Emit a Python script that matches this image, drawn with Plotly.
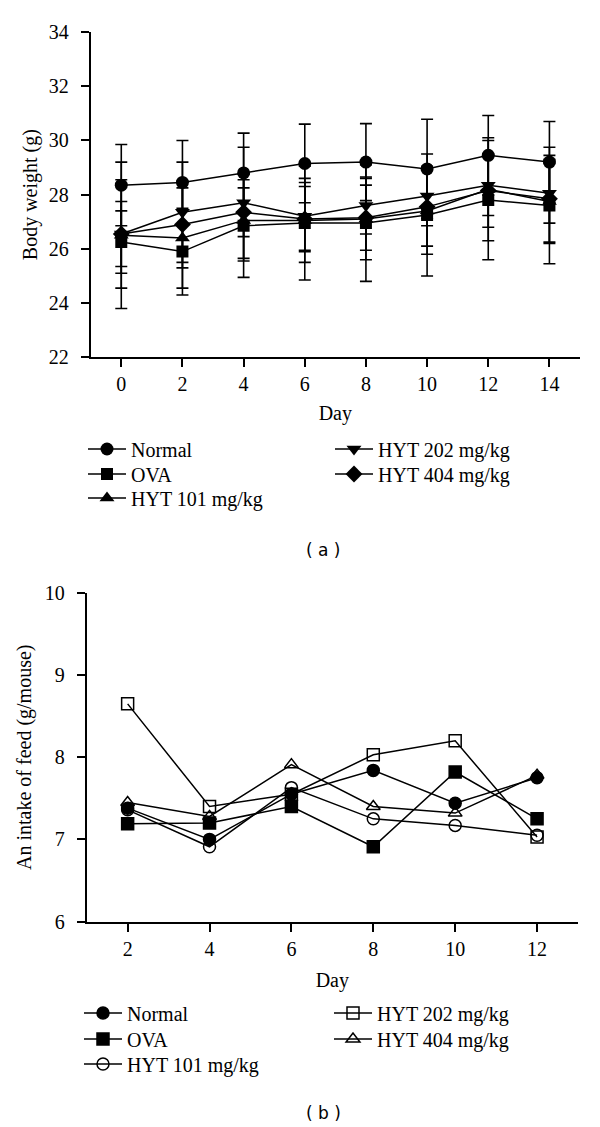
import plotly.graph_objects as go

# ---------------- Data: panel (a) body weight ----------------
days_a = [0, 2, 4, 6, 8, 10, 12, 14]
bw_normal = [28.35, 28.45, 28.8, 29.15, 29.2, 28.95, 29.45, 29.2]
sd_normal = [1.5, 1.55, 1.47, 1.45, 1.42, 1.83, 1.47, 1.5]
bw_ova = [26.25, 25.9, 26.85, 26.95, 26.95, 27.25, 27.8, 27.6]
sd_ova = [1.15, 1.6, 1.9, 2.1, 2.15, 2.25, 2.2, 2.15]
bw_hyt101 = [26.5, 26.4, 27.05, 27.05, 27.1, 27.4, 28.2, 27.75]
sd_hyt101 = [2.7, 1.85, 1.5, 1.55, 1.5, 1.6, 1.9, 1.55]
bw_hyt202 = [26.55, 27.35, 27.7, 27.2, 27.6, 27.95, 28.35, 28.05]
sd_hyt202 = [1.2, 1.85, 2.05, 1.25, 1.05, 1.1, 1.12, 1.1]
bw_hyt404 = [26.55, 26.9, 27.35, 27.1, 27.15, 27.55, 28.15, 27.85]
sd_hyt404 = [2.0, 1.6, 0.9, 1.2, 1.2, 1.45, 1.35, 1.6]

# ---------------- Data: panel (b) feed intake ----------------
days_b = [2, 4, 6, 8, 10, 12]
fi_normal = [7.38, 7.0, 7.55, 7.84, 7.44, 7.75]
fi_ova = [7.19, 7.2, 7.4, 6.91, 7.82, 7.25]
fi_hyt101 = [7.36, 6.91, 7.63, 7.25, 7.17, 7.05]
fi_hyt202 = [8.65, 7.40, 7.55, 8.03, 8.20, 7.03]
fi_hyt404 = [7.45, 7.28, 7.91, 7.40, 7.32, 7.78]

names = ["Normal", "OVA", "HYT 101 mg/kg", "HYT 202 mg/kg", "HYT 404 mg/kg"]
ticks_a_x = [0, 2, 4, 6, 8, 10, 12, 14]
ticks_a_y = [22, 24, 26, 28, 30, 32, 34]
ticks_b_x = [2, 4, 6, 8, 10, 12]
ticks_b_y = [6, 7, 8, 9, 10]

SERIF = "Liberation Serif"
W, H = 600, 1127

fig = go.Figure()

sym_a = ["circle", "square", "triangle-up", "triangle-down", "diamond"]
ys_a = [bw_normal, bw_ova, bw_hyt101, bw_hyt202, bw_hyt404]
sds_a = [sd_normal, sd_ova, sd_hyt101, sd_hyt202, sd_hyt404]
sizes_a = [13, 12, 13, 13, 13]

for i in range(5):
    fig.add_trace(go.Scatter(
        x=days_a, y=ys_a[i], name=names[i], mode="lines+markers",
        xaxis="x", yaxis="y", legend=f"legend{i+1}" if i else "legend",
        showlegend=True,
        line=dict(color="black", width=1.5),
        marker=dict(symbol=sym_a[i], size=sizes_a[i], color="black"),
        error_y=dict(type="data", array=sds_a[i], visible=True, color="black",
                     thickness=1.6, width=6),
    ))

sym_b = ["circle", "square", "circle-open", "square-open", "triangle-up-open"]
ys_b = [fi_normal, fi_ova, fi_hyt101, fi_hyt202, fi_hyt404]
for i in range(5):
    fig.add_trace(go.Scatter(
        x=days_b, y=ys_b[i], name=names[i], mode="lines+markers",
        xaxis="x2", yaxis="y2", legend=f"legend{i+6}",
        showlegend=True,
        line=dict(color="black", width=1.5),
        marker=dict(symbol=sym_b[i], size=12, color="black",
                    line=dict(color="black", width=1.5)),
    ))

axis_common = dict(showline=True, linecolor="black", linewidth=2, ticks="outside",
                   ticklen=8, tickwidth=2, tickcolor="black", showgrid=False,
                   zeroline=False, automargin=False,
                   tickfont=dict(family=SERIF, size=20, color="black"),
                   title_font=dict(family=SERIF, size=20, color="black"))

def py(p):
    return 1 - p / H

fig.update_layout(
    template="none",
    width=W, height=H, margin=dict(l=0, r=0, t=0, b=0, pad=0), autosize=False,
    paper_bgcolor="white", plot_bgcolor="white", showlegend=True,
    font=dict(family=SERIF, color="black"),
    xaxis=dict(axis_common, domain=[90.7 / W, 580 / W], range=[-1, 15], tickvals=ticks_a_x,
               anchor="y", title=dict(text="Day", standoff=12), ticklabelstandoff=0),
    yaxis=dict(axis_common, domain=[py(357.3), py(32)], range=[22, 34], tickvals=ticks_a_y,
               anchor="x", title=dict(text="Body weight (g)", standoff=6), ticklabelstandoff=8),
    xaxis2=dict(axis_common, domain=[86.7 / W, 578 / W], range=[1, 13], tickvals=ticks_b_x,
                anchor="y2", title=dict(text="Day", standoff=14), ticklabelstandoff=0),
    yaxis2=dict(axis_common, domain=[py(921.5), py(593)], range=[6, 10], tickvals=ticks_b_y,
                anchor="x2", title=dict(text="An intake of feed (g/mouse)", standoff=8),
                ticklabelstandoff=8),
    annotations=[
        dict(text="( a )", x=323 / W, y=py(550), xref="paper", yref="paper", showarrow=False,
             xanchor="center", yanchor="middle", font=dict(family="DejaVu Sans", size=17, color="black")),
        dict(text="( b )", x=323 / W, y=py(1113), xref="paper", yref="paper", showarrow=False,
             xanchor="center", yanchor="middle", font=dict(family="DejaVu Sans", size=17, color="black")),
    ],
)

# legend positions: (legend-left-x, row-center-y) for each trace
leg_pos = [
    (83, 449), (83, 474), (83, 498), (330, 449), (330, 474),
    (79, 1013), (79, 1039), (79, 1064), (329, 1013), (329, 1039),
]
for i, (lx, ly) in enumerate(leg_pos):
    key = "legend" if i == 0 else f"legend{i+1}"
    fig.update_layout(**{key: dict(
        x=lx / W, y=py(ly), xanchor="left", yanchor="middle", itemwidth=38,
        font=dict(family=SERIF, size=20, color="black"),
        bgcolor="rgba(0,0,0,0)", borderwidth=0, visible=True,
    )})

fig.write_html("out.html", config={"displayModeBar": False},
               post_script="document.body.style.margin='0';")
